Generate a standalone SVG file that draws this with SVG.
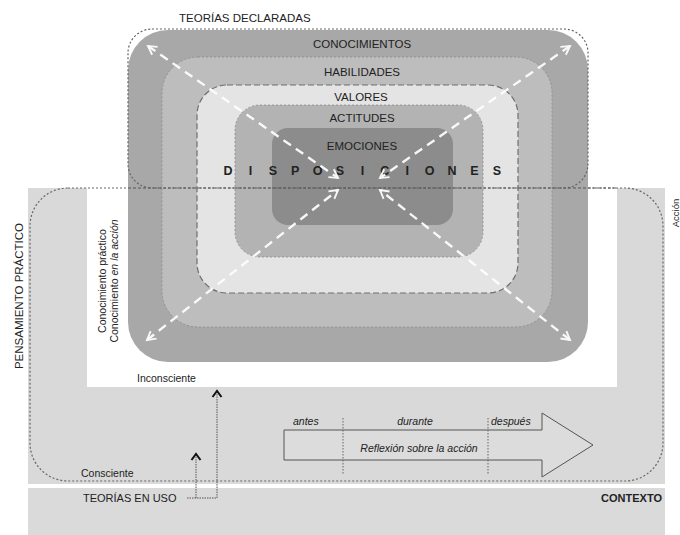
<svg xmlns="http://www.w3.org/2000/svg" width="680" height="535" viewBox="0 0 680 535">
<style>
  .t { font-family: "Liberation Sans", Arial, sans-serif; fill: #222; }
  .lbl { font-size: 11.5px; text-anchor: middle; }
  .it { font-style: italic; font-size: 10.5px; }
  .wd { fill: none; stroke: #fff; stroke-width: 2.4; stroke-dasharray: 9 6; opacity: 0.92; }
  .dot { fill: none; stroke: #666; stroke-width: 1.2; stroke-dasharray: 2 2; }
</style>
<defs>
  <marker id="wh" viewBox="0 0 10 10" refX="8" refY="5" markerWidth="5" markerHeight="5" orient="auto" markerUnits="strokeWidth">
    <path d="M1,1 L8,5 L1,9" fill="none" stroke="#fff" stroke-width="1.6"/>
  </marker>
  <marker id="whs" viewBox="0 0 10 10" refX="2" refY="5" markerWidth="5" markerHeight="5" orient="auto" markerUnits="strokeWidth">
    <path d="M9,1 L2,5 L9,9" fill="none" stroke="#fff" stroke-width="1.6"/>
  </marker>
</defs>
<rect width="680" height="535" fill="#fff"/>

<g id="contexto">
  <rect x="28" y="488" width="637" height="47" fill="#dadada"/>
  <text class="t" x="662" y="502" font-size="11" font-weight="bold" text-anchor="end">CONTEXTO</text>
</g>

<g id="pensamiento-practico">
  <path d="M28,188 H665 V484 H28 Z M87,188 V387 H617 V188 Z" fill="#d9d9d9" fill-rule="evenodd"/>
  <rect x="30" y="188" width="633" height="293" rx="38" class="dot"/>
  <text class="t" transform="translate(23,296) rotate(-90)" font-size="11.5" text-anchor="middle">PENSAMIENTO PRÁCTICO</text>
  <text class="t" transform="translate(679,213) rotate(-90)" font-size="9.5" text-anchor="middle">Acción</text>
</g>

<g id="disposiciones">
  <rect id="conocimientos" x="128" y="30" width="460" height="332" rx="40" fill="#a8a8a8"/>
  <rect id="habilidades" x="162" y="57" width="390" height="270" rx="36" fill="#bdbdbd" stroke="#8a8a8a" stroke-width="0.8" stroke-dasharray="2 2"/>
  <rect id="valores" x="197" y="85" width="321" height="208" rx="30" fill="#e4e4e4" stroke="#6f6f6f" stroke-width="1.2" stroke-dasharray="6 3"/>
  <rect id="actitudes" x="235" y="105" width="248" height="152" rx="25" fill="#b3b3b3" stroke="#8a8a8a" stroke-width="0.8" stroke-dasharray="2 2"/>
  <rect id="emociones" x="272" y="128" width="181" height="97" rx="16" fill="#8c8c8c"/>
  <text class="t lbl" x="362" y="48">CONOCIMIENTOS</text>
  <text class="t lbl" x="362" y="76">HABILIDADES</text>
  <text class="t lbl" x="361" y="101">VALORES</text>
  <text class="t lbl" x="362" y="122">ACTITUDES</text>
  <text class="t lbl" x="362" y="150">EMOCIONES</text>
  <g class="t" font-size="12.5" font-weight="bold" text-anchor="middle" fill="#111">
    <text x="228" y="175">D</text><text x="250.4" y="175">I</text><text x="272.8" y="175">S</text><text x="295.2" y="175">P</text><text x="317.6" y="175">O</text><text x="340" y="175">S</text><text x="362.4" y="175">I</text><text x="384.8" y="175">C</text><text x="407.2" y="175">I</text><text x="429.6" y="175">O</text><text x="452" y="175">N</text><text x="474.4" y="175">E</text><text x="496.8" y="175">S</text>
  </g>
</g>

<g id="teorias-declaradas">
  <rect x="128" y="29" width="460" height="159" rx="24" class="dot"/>
  <text class="t" x="179" y="22" font-size="11.5">TEORÍAS DECLARADAS</text>
</g>

<g id="conocimiento-practico">
  <text class="t" transform="translate(106,281) rotate(-90)" font-size="10.5" text-anchor="middle">Conocimiento práctico</text>
  <text class="t" transform="translate(118,281) rotate(-90)" font-size="10.5" text-anchor="middle">Conocimiento <tspan font-style="italic">en la acción</tspan></text>
</g>

<g id="inconsciente"><text class="t" x="137" y="382" font-size="10.5">Inconsciente</text></g>
<g id="consciente"><text class="t" x="81" y="477" font-size="10.5">Consciente</text></g>
<g id="teorias-en-uso"><text class="t" x="83" y="502" font-size="11">TEORÍAS EN USO</text></g>

<g id="reflexion">
  <path d="M284,430 H542 V413 L593,445 L542,477 V460 H284 Z" fill="#dcdcdc" stroke="#555" stroke-width="1"/>
  <line x1="343" y1="418" x2="343" y2="475" stroke="#666" stroke-width="1" stroke-dasharray="1.5 1.5"/>
  <line x1="488" y1="418" x2="488" y2="475" stroke="#666" stroke-width="1" stroke-dasharray="1.5 1.5"/>
  <text class="t it" x="293" y="425">antes</text>
  <text class="t it" x="415" y="425" text-anchor="middle">durante</text>
  <text class="t it" x="491" y="425">después</text>
  <text class="t it" x="419" y="452" text-anchor="middle">Reflexión sobre la acción</text>
</g>

<g id="connectors">
  <line x1="148" y1="46" x2="338" y2="178" class="wd" marker-start="url(#whs)" marker-end="url(#wh)"/>
  <line x1="570" y1="46" x2="380" y2="178" class="wd" marker-start="url(#whs)" marker-end="url(#wh)"/>
  <line x1="147" y1="340" x2="338" y2="190" class="wd" marker-start="url(#whs)" marker-end="url(#wh)"/>
  <line x1="570" y1="340" x2="380" y2="190" class="wd" marker-start="url(#whs)" marker-end="url(#wh)"/>
  <line x1="128" y1="188" x2="617" y2="188" stroke="#555" stroke-width="1.2" stroke-dasharray="3 2"/>
  <path d="M187,498 H217 V393" fill="none" stroke="#555" stroke-width="1" stroke-dasharray="1.5 1"/>
  <path d="M196,498 V457" fill="none" stroke="#555" stroke-width="1" stroke-dasharray="1.5 1"/>
  <path d="M212.5,397 L217,391 L221.5,397" fill="none" stroke="#111" stroke-width="2"/>
  <path d="M191.5,460 L196,454 L200.5,460" fill="none" stroke="#111" stroke-width="2"/>
</g>
</svg>
